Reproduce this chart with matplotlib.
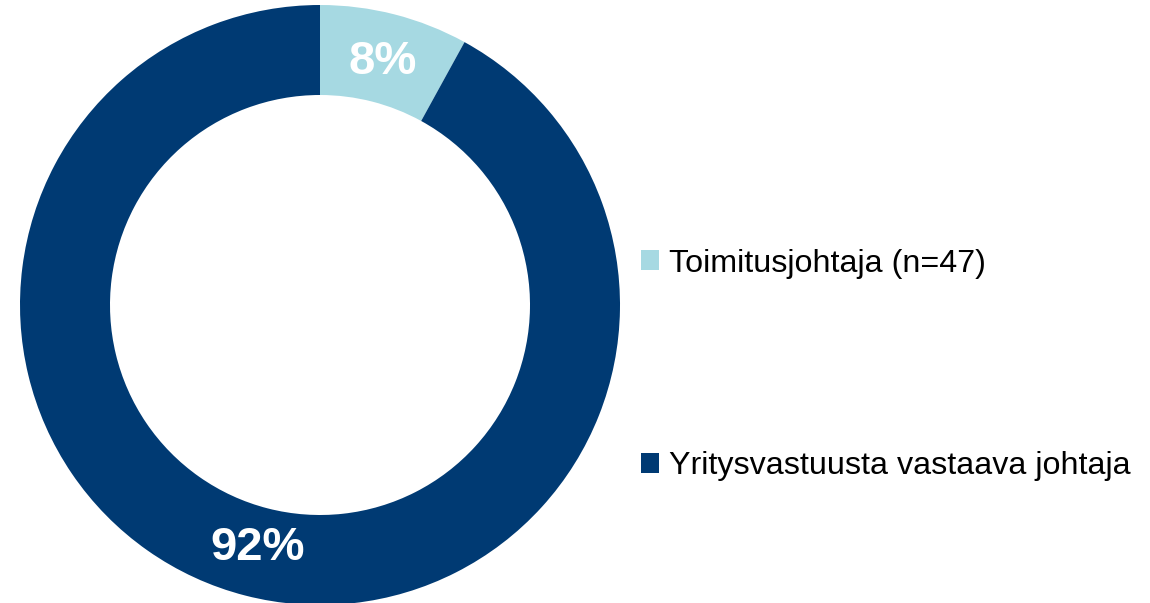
import matplotlib.pyplot as plt

plt.rcParams['font.family'] = ['Liberation Sans', 'DejaVu Sans']

# Data
labels = ['Toimitusjohtaja (n=47)', 'Yritysvastuusta vastaava johtaja']
values = [8, 92]
colors = ['#A6D9E2', '#003A73']

fig = plt.figure(figsize=(11.5, 6.03), dpi=100)
# donut: centre at (320, 305) px, outer radius 300 px
ax = fig.add_axes([20 / 1150, (603 - 605) / 603, 600 / 1150, 600 / 603])

wedges, texts, autotexts = ax.pie(
    values, colors=colors, startangle=90, counterclock=False,
    radius=1.0, wedgeprops=dict(width=0.3, edgecolor='none'),
    autopct='%d%%', pctdistance=0.835,
    textprops=dict(color='white', fontsize=34, fontweight='bold'))
ax.set_xlim(-1, 1)
ax.set_ylim(-1, 1)
ax.set_aspect('equal')
ax.axis('off')

leg = fig.legend(wedges, labels, loc='center left',
                 bbox_to_anchor=(0.543, 0.395), frameon=False,
                 fontsize=23.2, handlelength=0.57, handleheight=0.57,
                 handletextpad=0.3, labelspacing=5.35, borderpad=0)

fig.savefig('out.png', dpi=100)
